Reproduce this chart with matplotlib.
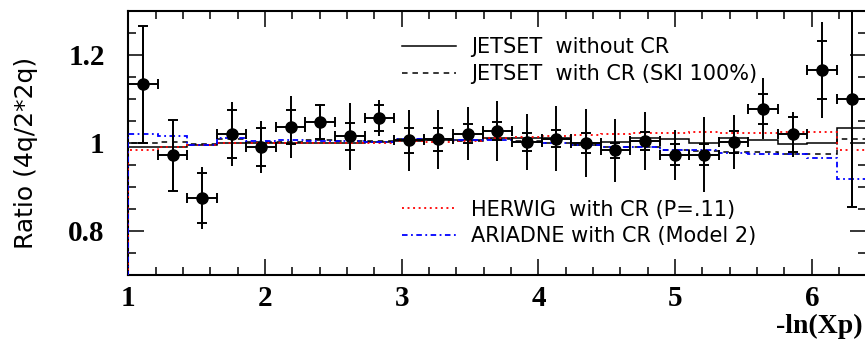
import numpy as np
import matplotlib
matplotlib.use("Agg")
import matplotlib.pyplot as plt
from matplotlib.ticker import MultipleLocator
from matplotlib.lines import Line2D

plt.rcParams['lines.scale_dashes'] = False

# bin edges in -ln(Xp)
edges = np.linspace(1.0, 6.4, 26)

# measured ratio with total and statistical errors
ratio = [1.133, 0.972, 0.875, 1.020, 0.991, 1.036, 1.048, 1.015, 1.057, 1.006,
         1.008, 1.021, 1.027, 1.002, 1.010, 1.000, 0.983, 1.004, 0.973, 0.973,
         1.002, 1.078, 1.020, 1.166, 1.099]
err_tot = [0.132, 0.081, 0.071, 0.073, 0.060, 0.070, 0.040, 0.077, 0.040, 0.069,
           0.066, 0.060, 0.068, 0.064, 0.074, 0.077, 0.072, 0.066, 0.057, 0.085,
           0.062, 0.070, 0.051, 0.110, 0.244]
err_stat = [0.132, 0.081, 0.057, 0.054, 0.044, 0.039, 0.038, 0.031, 0.030, 0.029,
            0.026, 0.022, 0.020, 0.021, 0.020, 0.022, 0.017, 0.020, 0.024, 0.024,
            0.025, 0.034, 0.040, 0.066, 0.244]

# model predictions
jetset_nocr = [0.991, 0.991, 0.996, 1.001, 0.999, 1.000, 1.000, 1.000, 1.003, 1.005,
               1.006, 1.006, 1.011, 1.011, 1.011, 0.996, 1.002, 1.011, 1.008, 1.000,
               1.011, 1.007, 0.998, 1.000, 1.034]
jetset_cr = [1.001, 1.002, 0.997, 1.009, 1.002, 1.003, 1.006, 1.005, 1.004, 1.008,
             1.007, 1.005, 1.008, 1.004, 1.000, 0.995, 0.992, 0.990, 0.985, 0.982,
             0.980, 0.979, 0.974, 0.976, 1.008]
herwig_cr = [0.983, 0.991, 0.996, 1.000, 1.000, 1.000, 0.999, 1.000, 0.999, 1.004,
             1.003, 1.004, 1.012, 1.013, 1.015, 1.018, 1.021, 1.023, 1.023, 1.025,
             1.023, 1.023, 1.026, 1.024, 0.985]
ariadne_cr = [1.021, 1.015, 0.996, 1.011, 1.005, 1.006, 1.005, 1.004, 1.003, 1.010,
              1.009, 1.006, 1.006, 1.002, 1.000, 0.995, 0.992, 0.991, 0.985, 0.983,
              0.977, 0.976, 0.974, 0.966, 0.918]

centers = (edges[:-1] + edges[1:]) / 2
halfw = (edges[1:] - edges[:-1]) / 2

fig = plt.figure(figsize=(8.65, 3.47), dpi=100)
ax = fig.add_axes([0.1483, 0.2075, 0.8534, 0.7608])

dash = (0, (4, 3.5))
dot = (0, (1.4, 2.6))
dashdot = (0, (4, 2.5, 1.3, 2.5))

ax.stairs(jetset_nocr, edges, baseline=0, color='black', lw=1.1, zorder=3)
ax.stairs(jetset_cr, edges, baseline=0, color='black', lw=1.1, ls=dash, zorder=3)
ax.stairs(herwig_cr, edges, baseline=0, color='red', lw=1.3, ls=dot, zorder=3)
ax.stairs(ariadne_cr, edges, baseline=0, color='blue', lw=1.3, ls=dashdot, zorder=3)

# total errors (plain line) and statistical errors (with caps)
ax.errorbar(centers, ratio, yerr=err_tot, fmt='none', ecolor='black',
            elinewidth=1.4, capsize=0, zorder=4)
ax.errorbar(centers, ratio, xerr=halfw, yerr=err_stat, fmt='o', color='black',
            ms=8, elinewidth=1.4, capsize=3.6, capthick=1.4, zorder=5)

ax.set_xlim(1.0, 6.4)
ax.set_ylim(0.7, 1.3)
ax.set_xticks([1, 2, 3, 4, 5, 6])
ax.set_yticks([0.8, 1.0, 1.2])
ax.set_yticklabels(['0.8', '1', '1.2'])
ax.xaxis.set_minor_locator(MultipleLocator(0.2))
ax.yaxis.set_minor_locator(MultipleLocator(0.05))
ax.tick_params(which='both', direction='in', top=True, right=True, width=1.1)
ax.tick_params(which='major', length=11.5)
ax.tick_params(which='minor', length=5.5)
ax.tick_params(axis='y', which='major', pad=17)
ax.tick_params(axis='x', which='major', pad=7)
for lab in ax.get_xticklabels() + ax.get_yticklabels():
    lab.set_fontfamily('Liberation Serif')
    lab.set_fontweight('bold')
    lab.set_fontsize(21)
for sp in ax.spines.values():
    sp.set_linewidth(1.5)

fig.text(0.030, 0.56, 'Ratio (4q/2*2q)', rotation=90, ha='center', va='center',
         family='DejaVu Sans', fontsize=18)
fig.text(0.997, 0.058, '-ln(Xp)', ha='right', va='center',
         family='Liberation Serif', weight='bold', fontsize=20)

leg_kw = dict(frameon=False, fontsize=15, handlelength=2.6, handletextpad=0.7,
              labelspacing=0.33, borderpad=0, borderaxespad=0,
              bbox_transform=fig.transFigure, loc='center left')
h1 = [Line2D([], [], color='black', lw=1.1),
      Line2D([], [], color='black', lw=1.1, ls=dash)]
leg1 = ax.legend(h1, ['JETSET  without CR', 'JETSET  with CR (SKI 100%)'],
                 bbox_to_anchor=(0.4647, 0.8256), **leg_kw)
ax.add_artist(leg1)
h2 = [Line2D([], [], color='red', lw=1.3, ls=dot),
      Line2D([], [], color='blue', lw=1.3, ls=dashdot)]
ax.legend(h2, ['HERWIG  with CR (P=.11)', 'ARIADNE with CR (Model 2)'],
          bbox_to_anchor=(0.4647, 0.3573), **leg_kw)

fig.savefig('out.png', dpi=100)
